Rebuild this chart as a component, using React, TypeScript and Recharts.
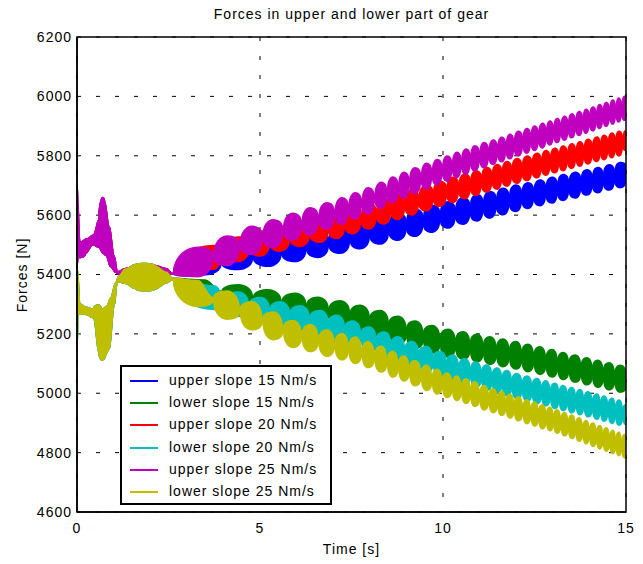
import { ComposedChart, Area, XAxis, YAxis, CartesianGrid, ReferenceArea } from 'recharts';

type Triple = [number, number, number];

// transient before the beads start: [time s, low N, high N], all three upper forces coincide
const upperEarly: Triple[] = [
  [0, 5430, 5710], [0.04, 5455, 5640], [0.1, 5455, 5512], [0.25, 5470, 5522],
  [0.44, 5497, 5535], [0.58, 5490, 5585], [0.7, 5470, 5662], [0.78, 5462, 5640],
  [0.9, 5425, 5560], [1.04, 5406, 5460], [1.12, 5400, 5412], [1.3, 5396, 5422],
  [1.6, 5394, 5432], [1.85, 5393, 5436], [2.15, 5395, 5432], [2.45, 5397, 5422],
  [2.62, 5399, 5406],
];

// same for the three lower forces
const lowerEarly: Triple[] = [
  [0, 5140, 5420], [0.04, 5262, 5400], [0.1, 5266, 5302], [0.25, 5263, 5292],
  [0.44, 5252, 5286], [0.58, 5140, 5300], [0.68, 5110, 5285], [0.8, 5130, 5295],
  [0.9, 5150, 5320], [1.04, 5300, 5372], [1.12, 5374, 5395], [1.3, 5368, 5420],
  [1.6, 5350, 5436], [1.85, 5342, 5440], [2.15, 5350, 5430], [2.45, 5370, 5410],
  [2.62, 5380, 5390],
];

// beads: [time s, centre N, half width N], peaks and necks alternating
const upper15: Triple[] = [
  [3.5, 5435, 38], [3.95, 5446, 12], [4.4, 5458, 44], [4.81, 5465, 14], [5.22, 5472, 47],
  [5.59, 5481, 15], [5.96, 5489, 48], [6.27, 5496, 16], [6.58, 5503, 48], [6.88, 5509, 16],
  [7.19, 5517, 48], [7.46, 5525, 17], [7.73, 5532, 48], [8.0, 5540, 17], [8.28, 5548, 48],
  [8.52, 5554, 18], [8.77, 5561, 48], [9.0, 5567, 18], [9.23, 5574, 48], [9.46, 5581, 19],
  [9.7, 5588, 48], [9.92, 5595, 19], [10.14, 5601, 47], [10.34, 5607, 19], [10.55, 5614, 47],
  [10.74, 5619, 20], [10.93, 5625, 47], [11.1, 5630, 20], [11.28, 5635, 47], [11.46, 5641, 20],
  [11.64, 5646, 47], [11.81, 5651, 20], [11.99, 5657, 47], [12.15, 5661, 21], [12.32, 5666, 46],
  [12.48, 5670, 21], [12.65, 5675, 46], [12.81, 5680, 21], [12.98, 5684, 46], [13.13, 5689, 21],
  [13.28, 5693, 46], [13.44, 5697, 22], [13.61, 5701, 46], [13.77, 5706, 22], [13.93, 5710, 45],
  [14.08, 5714, 22], [14.23, 5718, 45], [14.38, 5722, 22], [14.54, 5727, 45], [14.69, 5731, 22],
  [14.84, 5735, 45], [15.0, 5740, 30],
];

const lower15: Triple[] = [
  [3.5, 5342, 42], [3.95, 5332, 14], [4.4, 5322, 46], [4.81, 5312, 15], [5.22, 5303, 48],
  [5.59, 5297, 15], [5.96, 5291, 48], [6.27, 5285, 16], [6.58, 5278, 48], [6.88, 5272, 16],
  [7.19, 5265, 49], [7.46, 5258, 17], [7.73, 5250, 49], [8.0, 5242, 17], [8.28, 5232, 49],
  [8.52, 5223, 18], [8.77, 5213, 49], [9.0, 5205, 18], [9.23, 5197, 49], [9.46, 5190, 19],
  [9.7, 5182, 49], [9.92, 5175, 19], [10.14, 5169, 49], [10.34, 5165, 19], [10.55, 5161, 49],
  [10.74, 5156, 20], [10.93, 5152, 49], [11.1, 5148, 20], [11.28, 5144, 49], [11.46, 5140, 20],
  [11.64, 5136, 49], [11.81, 5132, 20], [11.99, 5128, 49], [12.15, 5124, 21], [12.32, 5119, 49],
  [12.48, 5115, 21], [12.65, 5110, 49], [12.81, 5105, 21], [12.98, 5101, 49], [13.13, 5096, 21],
  [13.28, 5092, 48], [13.44, 5088, 22], [13.61, 5083, 48], [13.77, 5078, 22], [13.93, 5074, 48],
  [14.08, 5070, 22], [14.23, 5066, 48], [14.38, 5062, 22], [14.54, 5057, 48], [14.69, 5053, 22],
  [14.84, 5049, 48], [15.0, 5045, 30],
];

const upper20: Triple[] = [
  [3.77, 5458, 42], [4.08, 5472, 13], [4.4, 5485, 44], [4.7, 5495, 14], [5.0, 5505, 45],
  [5.27, 5513, 15], [5.55, 5521, 45], [5.82, 5530, 15], [6.09, 5537, 45], [6.36, 5544, 16],
  [6.64, 5551, 45], [6.87, 5557, 16], [7.1, 5564, 45], [7.32, 5572, 17], [7.54, 5580, 45],
  [7.76, 5588, 17], [7.98, 5596, 45], [8.18, 5604, 17], [8.39, 5613, 45], [8.58, 5620, 18],
  [8.77, 5628, 45], [8.96, 5635, 18], [9.15, 5643, 45], [9.34, 5650, 18], [9.54, 5657, 45],
  [9.73, 5665, 19], [9.92, 5672, 45], [10.1, 5679, 19], [10.27, 5685, 45], [10.43, 5691, 19],
  [10.6, 5697, 44], [10.75, 5702, 19], [10.9, 5708, 44], [11.05, 5714, 20], [11.2, 5719, 44],
  [11.34, 5724, 20], [11.48, 5729, 44], [11.61, 5734, 20], [11.75, 5739, 44], [11.88, 5744, 20],
  [12.02, 5749, 44], [12.16, 5753, 20], [12.3, 5758, 44], [12.43, 5763, 21], [12.57, 5767, 44],
  [12.69, 5771, 21], [12.81, 5776, 44], [12.93, 5780, 21], [13.06, 5784, 44], [13.17, 5788, 21],
  [13.28, 5791, 44], [13.4, 5795, 21], [13.52, 5799, 44], [13.63, 5803, 21], [13.74, 5806, 44],
  [13.85, 5810, 21], [13.96, 5814, 44], [14.08, 5818, 22], [14.21, 5822, 44], [14.3, 5825, 22],
  [14.4, 5828, 44], [14.51, 5832, 22], [14.62, 5835, 44], [14.71, 5838, 22], [14.81, 5841, 44],
  [14.91, 5845, 22], [15.0, 5852, 36],
];

const lower20: Triple[] = [
  [3.77, 5322, 42], [4.08, 5311, 13], [4.4, 5300, 44], [4.7, 5290, 14], [5.0, 5280, 45],
  [5.27, 5273, 15], [5.55, 5266, 45], [5.82, 5260, 15], [6.09, 5252, 45], [6.36, 5244, 16],
  [6.64, 5236, 45], [6.87, 5229, 16], [7.1, 5220, 45], [7.32, 5211, 17], [7.54, 5201, 45],
  [7.76, 5191, 17], [7.98, 5181, 45], [8.18, 5172, 17], [8.39, 5164, 45], [8.58, 5156, 18],
  [8.77, 5148, 45], [8.96, 5140, 18], [9.15, 5132, 45], [9.34, 5124, 18], [9.54, 5115, 45],
  [9.73, 5107, 19], [9.92, 5098, 45], [10.1, 5092, 19], [10.27, 5086, 45], [10.43, 5080, 19],
  [10.6, 5074, 45], [10.75, 5069, 19], [10.9, 5063, 45], [11.05, 5058, 20], [11.2, 5053, 45],
  [11.34, 5048, 20], [11.48, 5043, 45], [11.61, 5039, 20], [11.75, 5034, 45], [11.88, 5029, 20],
  [12.02, 5024, 45], [12.16, 5020, 20], [12.3, 5016, 45], [12.43, 5012, 21], [12.57, 5007, 45],
  [12.69, 5004, 21], [12.81, 5000, 45], [12.93, 4996, 21], [13.06, 4991, 45], [13.17, 4988, 21],
  [13.28, 4984, 45], [13.4, 4981, 21], [13.52, 4977, 45], [13.63, 4973, 21], [13.74, 4970, 45],
  [13.85, 4967, 21], [13.96, 4963, 45], [14.08, 4959, 22], [14.21, 4955, 45], [14.3, 4952, 22],
  [14.4, 4948, 45], [14.51, 4945, 22], [14.62, 4941, 45], [14.71, 4938, 22], [14.81, 4935, 45],
  [14.91, 4931, 22], [15.0, 4928, 36],
];

const upper25: Triple[] = [
  [3.31, 5442, 52], [3.72, 5460, 8], [4.1, 5480, 52], [4.45, 5498, 9], [4.78, 5515, 50],
  [5.07, 5527, 10], [5.36, 5538, 49], [5.63, 5550, 10], [5.9, 5561, 48], [6.14, 5570, 11],
  [6.37, 5579, 48], [6.6, 5588, 12], [6.83, 5597, 47], [7.04, 5605, 12], [7.24, 5614, 47],
  [7.42, 5623, 13], [7.6, 5631, 47], [7.78, 5640, 13], [7.95, 5648, 47], [8.13, 5657, 14],
  [8.31, 5667, 46], [8.47, 5676, 14], [8.63, 5685, 46], [8.78, 5693, 15], [8.93, 5701, 46],
  [9.08, 5709, 15], [9.23, 5716, 46], [9.4, 5724, 16], [9.55, 5731, 46], [9.7, 5738, 16],
  [9.84, 5745, 45], [9.98, 5751, 17], [10.11, 5757, 45], [10.25, 5763, 17], [10.38, 5769, 45],
  [10.5, 5774, 17], [10.63, 5780, 45], [10.75, 5786, 18], [10.87, 5791, 45], [11.0, 5797, 18],
  [11.12, 5802, 45], [11.25, 5807, 18], [11.37, 5812, 44], [11.49, 5817, 19], [11.6, 5821, 44],
  [11.72, 5826, 19], [11.83, 5831, 44], [11.94, 5836, 19], [12.06, 5841, 44], [12.18, 5846, 19],
  [12.29, 5850, 44], [12.4, 5855, 20], [12.5, 5859, 44], [12.61, 5863, 20], [12.72, 5868, 44],
  [12.82, 5872, 20], [12.92, 5877, 43], [13.02, 5881, 20], [13.12, 5885, 43], [13.22, 5889, 20],
  [13.32, 5893, 43], [13.42, 5897, 20], [13.52, 5901, 43], [13.62, 5905, 20], [13.72, 5909, 43],
  [13.82, 5913, 20], [13.91, 5916, 43], [14.0, 5920, 21], [14.1, 5924, 43], [14.19, 5928, 21],
  [14.28, 5932, 43], [14.37, 5936, 21], [14.46, 5939, 43], [14.55, 5943, 21], [14.64, 5947, 43],
  [14.72, 5950, 21], [14.8, 5954, 43], [14.88, 5957, 21], [14.96, 5960, 43], [15.0, 5962, 38],
];

const lower25: Triple[] = [
  [3.31, 5336, 46], [3.72, 5316, 9], [4.1, 5297, 50], [4.45, 5278, 10], [4.78, 5261, 50],
  [5.07, 5245, 10], [5.36, 5227, 49], [5.63, 5214, 11], [5.9, 5200, 48], [6.14, 5193, 11],
  [6.37, 5186, 48], [6.6, 5178, 12], [6.83, 5169, 47], [7.04, 5163, 12], [7.24, 5157, 47],
  [7.42, 5151, 13], [7.6, 5145, 47], [7.78, 5137, 13], [7.95, 5130, 46], [8.13, 5122, 14],
  [8.31, 5115, 46], [8.47, 5107, 14], [8.63, 5098, 46], [8.78, 5091, 15], [8.93, 5084, 45],
  [9.08, 5076, 15], [9.23, 5068, 45], [9.4, 5059, 16], [9.55, 5052, 45], [9.7, 5045, 16],
  [9.84, 5039, 44], [9.98, 5033, 17], [10.11, 5027, 44], [10.25, 5022, 17], [10.38, 5017, 44],
  [10.5, 5012, 17], [10.63, 5007, 44], [10.75, 5002, 18], [10.87, 4997, 44], [11.0, 4990, 18],
  [11.12, 4985, 44], [11.25, 4980, 18], [11.37, 4975, 43], [11.49, 4970, 19], [11.6, 4966, 43],
  [11.72, 4961, 19], [11.83, 4957, 43], [11.94, 4952, 19], [12.06, 4948, 43], [12.18, 4943, 19],
  [12.29, 4938, 43], [12.4, 4934, 20], [12.5, 4930, 43], [12.61, 4926, 20], [12.72, 4921, 43],
  [12.82, 4917, 20], [12.92, 4913, 42], [13.02, 4909, 20], [13.12, 4905, 42], [13.22, 4900, 20],
  [13.32, 4896, 42], [13.42, 4891, 20], [13.52, 4887, 42], [13.62, 4882, 20], [13.72, 4878, 42],
  [13.82, 4873, 20], [13.91, 4869, 42], [14.0, 4865, 21], [14.1, 4860, 42], [14.19, 4856, 21],
  [14.28, 4852, 42], [14.37, 4848, 21], [14.46, 4844, 42], [14.55, 4840, 21], [14.64, 4836, 42],
  [14.72, 4832, 21], [14.8, 4829, 42], [14.88, 4825, 21], [14.96, 4822, 42], [15.0, 4820, 38],
];

const seriesNames = [
  'upper slope 15 Nm/s',
  'lower slope 15 Nm/s',
  'upper slope 20 Nm/s',
  'lower slope 20 Nm/s',
  'upper slope 25 Nm/s',
  'lower slope 25 Nm/s',
];
const seriesColors = ['#0000ff', '#008000', '#ff0000', '#00bfbf', '#bf00bf', '#bfbf00'];
const xTicks = [0, 5, 10, 15];
const yTicks = [4600, 4800, 5000, 5200, 5400, 5600, 5800, 6000, 6200];

const toRows = (early: Triple[], beads: Triple[]) => [
  ...early.map(([t, lo, hi]) => ({ t, band: [lo, hi] })),
  ...beads.map(([t, c, h]) => ({ t, band: [c - h, c + h] })),
];

const seriesData = [
  toRows(upperEarly, upper15),
  toRows(lowerEarly, lower15),
  toRows(upperEarly, upper20),
  toRows(lowerEarly, lower20),
  toRows(upperEarly, upper25),
  toRows(lowerEarly, lower25),
];

// curve factory for the bands: flat at a bead's widest point, cusp at the neck,
// so consecutive points join like a chain of ellipses
const K = 0.5523;
function beadCurve(ctx: any) {
  let line = NaN;
  let pts: number[][] = [];
  const draw = (isBase: boolean) => {
    if (!pts.length) return;
    const score = (i: number) => (isBase ? pts[i][1] : -pts[i][1]);
    const outer = pts.map((_, i) => {
      const s = score(i);
      const l = i > 0 ? score(i - 1) : -Infinity;
      const r = i < pts.length - 1 ? score(i + 1) : -Infinity;
      return s >= l && s >= r;
    });
    const [x0, y0] = pts[0];
    if (line === 1) ctx.lineTo(x0, y0);
    else ctx.moveTo(x0, y0);
    for (let i = 1; i < pts.length; i++) {
      const [ax, ay] = pts[i - 1];
      const [bx, by] = pts[i];
      const dx = bx - ax;
      const dy = by - ay;
      if (outer[i - 1] && !outer[i]) {
        ctx.bezierCurveTo(ax + K * dx, ay, bx, by - K * dy, bx, by);
      } else if (!outer[i - 1] && outer[i]) {
        ctx.bezierCurveTo(ax, ay + K * dy, bx - K * dx, by, bx, by);
      } else {
        ctx.bezierCurveTo(ax + dx / 3, ay, bx - dx / 3, by, bx, by);
      }
    }
  };
  return {
    areaStart() {
      line = 0;
    },
    areaEnd() {
      line = NaN;
    },
    lineStart() {
      pts = [];
    },
    lineEnd() {
      draw(line === 1);
      if (line === 1) ctx.closePath();
      line = 1 - line;
    },
    point(x: number, y: number) {
      pts.push([+x, +y]);
    },
  };
}

const font = '"Liberation Sans", Arial, sans-serif';

export default function App() {
  return (
    <div
      style={{
        position: 'absolute',
        left: 0,
        top: 0,
        width: 643,
        height: 564,
        background: '#fff',
        fontFamily: font,
        letterSpacing: 1,
        color: '#000',
      }}
    >
      <ComposedChart width={643} height={564} margin={{ top: 37, right: 17, bottom: 22, left: 0 }}>
        <CartesianGrid stroke="#000" strokeDasharray="4 15" />
        <XAxis
          dataKey="t"
          type="number"
          domain={[0, 15]}
          ticks={xTicks}
          allowDataOverflow
          height={30}
          tickSize={0}
          tickMargin={11}
          axisLine={{ stroke: '#000', strokeWidth: 1.5 }}
          tick={{ fill: '#000', fontSize: 14 }}
        />
        <YAxis
          type="number"
          domain={[4600, 6200]}
          ticks={yTicks}
          allowDataOverflow
          width={77}
          tickSize={0}
          tickMargin={5}
          axisLine={{ stroke: '#000', strokeWidth: 1.5 }}
          tick={{ fill: '#000', fontSize: 14 }}
        />
        {seriesData.map((rows, i) => (
          <Area
            key={seriesNames[i]}
            name={seriesNames[i]}
            data={rows}
            dataKey="band"
            type={beadCurve as any}
            fill={seriesColors[i]}
            fillOpacity={1}
            stroke="none"
            dot={false}
            activeDot={false}
            isAnimationActive={false}
          />
        ))}
        <ReferenceArea x1={0} x2={15} y1={4600} y2={6200} fill="none" stroke="#000" strokeWidth={1.5} />
      </ComposedChart>

      <div style={{ position: 'absolute', left: 77, width: 549, top: 6, textAlign: 'center', fontSize: 14 }}>
        Forces in upper and lower part of gear
      </div>
      <div style={{ position: 'absolute', left: 77, width: 549, top: 541, textAlign: 'center', fontSize: 14 }}>
        Time [s]
      </div>
      <div
        style={{
          position: 'absolute',
          left: 22,
          top: 275,
          fontSize: 14,
          whiteSpace: 'nowrap',
          transform: 'translate(-50%, -50%) rotate(-90deg)',
        }}
      >
        Forces [N]
      </div>

      <div
        style={{
          position: 'absolute',
          left: 120,
          top: 365,
          width: 212,
          height: 140,
          boxSizing: 'border-box',
          border: '2px solid #000',
          background: '#fff',
        }}
      >
        {seriesNames.map((name, i) => (
          <div
            key={name}
            style={{ position: 'absolute', left: 0, top: Math.round(3 + i * 22.2), height: 22, width: 208 }}
          >
            <div
              style={{
                position: 'absolute',
                left: 8,
                top: 10,
                width: 28,
                height: 1.5,
                background: seriesColors[i],
              }}
            />
            <div style={{ position: 'absolute', left: 47, top: 2, fontSize: 14, whiteSpace: 'nowrap' }}>
              {name}
            </div>
          </div>
        ))}
      </div>
    </div>
  );
}
